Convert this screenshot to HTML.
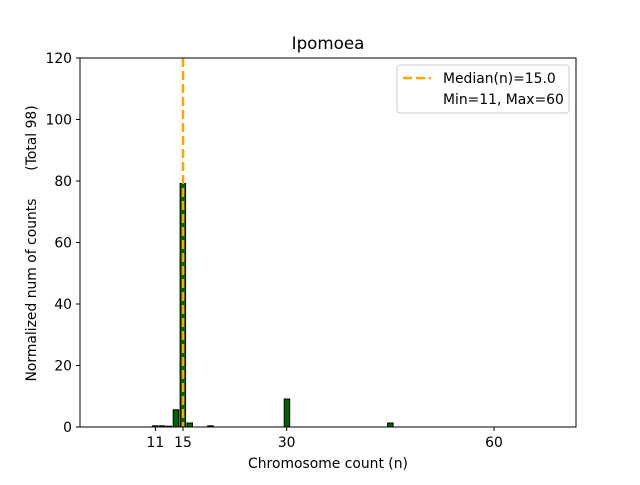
<!DOCTYPE html>
<html><head><meta charset="utf-8"><style>body{margin:0;background:#fff}</style></head><body>
<svg width="640" height="480" xmlns="http://www.w3.org/2000/svg" font-family="DejaVu Sans, Liberation Sans, sans-serif">
<rect width="640" height="480" fill="#fff"/>
<g fill="#006400" stroke="#000" stroke-width="1">
<rect x="152.4" y="425.8" width="5.5" height="1.2"/>
<rect x="159.3" y="425.8" width="5.5" height="1.2"/>
<rect x="166.2" y="426.2" width="5.5" height="0.8"/>
<rect x="173.2" y="409.8" width="5.5" height="17.2"/>
<rect x="180.1" y="183.5" width="5.5" height="243.5"/>
<rect x="187.0" y="423" width="5.5" height="4"/>
<rect x="207.7" y="425.8" width="5.5" height="1.2"/>
<rect x="284.2" y="399" width="5.5" height="28"/>
<rect x="387.6" y="423" width="5.5" height="4"/>
</g>
<line x1="183" y1="58" x2="183" y2="427" stroke="#ffa500" stroke-width="2.5" stroke-dasharray="9,4"/>
<rect x="80" y="58" width="496" height="369" fill="none" stroke="#000" stroke-width="1"/>
<g stroke="#000">
<line x1="80" y1="427" x2="76" y2="427"/><line x1="80" y1="365.5" x2="76" y2="365.5"/><line x1="80" y1="304" x2="76" y2="304"/><line x1="80" y1="242.5" x2="76" y2="242.5"/><line x1="80" y1="181" x2="76" y2="181"/><line x1="80" y1="119.5" x2="76" y2="119.5"/><line x1="80" y1="58" x2="76" y2="58"/>
<line x1="155.4" y1="427" x2="155.4" y2="431"/><line x1="183" y1="427" x2="183" y2="431"/><line x1="286.7" y1="427" x2="286.7" y2="431"/><line x1="494" y1="427" x2="494" y2="431"/>
</g>
<g font-size="13.9" text-anchor="end">
<text x="72" y="432">0</text><text x="72" y="370.5">20</text><text x="72" y="309">40</text><text x="72" y="247.5">60</text><text x="72" y="186">80</text><text x="72" y="124.5">100</text><text x="72" y="63">120</text>
</g>
<g font-size="13.9" text-anchor="middle">
<text x="155.4" y="447">11</text><text x="183" y="447">15</text><text x="286.7" y="447">30</text><text x="494" y="447">60</text>
<text x="328" y="468">Chromosome count (n)</text>
<text x="328" y="49" font-size="16.7">Ipomoea</text>
<text transform="translate(36,290) rotate(-90)">Normalized num of counts</text>
<text transform="translate(36,138) rotate(-90)">(Total 98)</text>
</g>
<rect x="397" y="65" width="172" height="48" rx="3" fill="#fff" stroke="#ccc"/>
<line x1="403" y1="78" x2="431" y2="78" stroke="#ffa500" stroke-width="2.5" stroke-dasharray="9,4"/>
<text x="443" y="83" font-size="13.9">Median(n)=15.0</text>
<text x="443" y="104" font-size="13.9">Min=11, Max=60</text>
</svg>
</body></html>
